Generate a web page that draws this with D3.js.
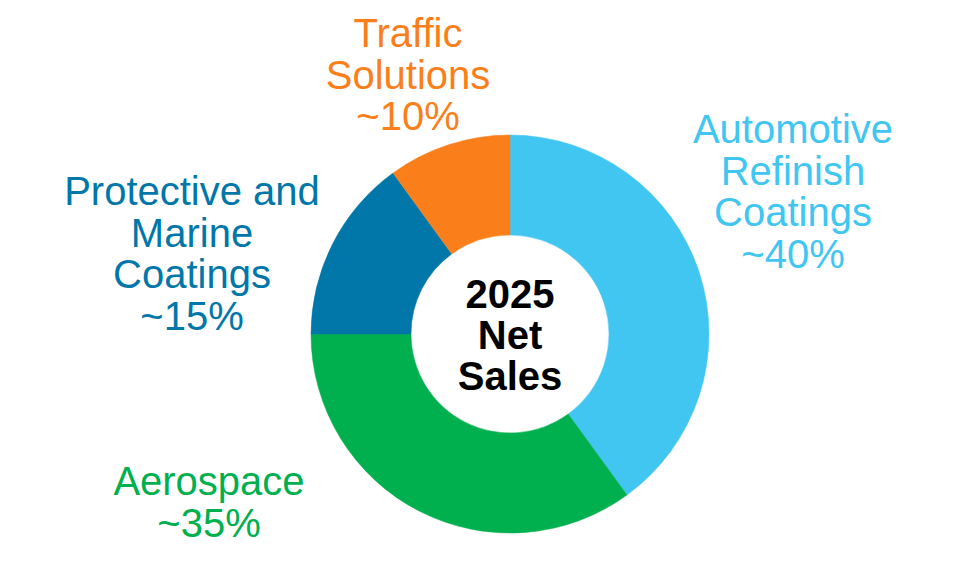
<!DOCTYPE html>
<html>
<head>
<meta charset="utf-8">
<script src="https://cdn.jsdelivr.net/npm/d3@7"></script>
<style>
  html, body { margin: 0; padding: 0; background: #ffffff; }
  svg { display: block; }
</style>
</head>
<body>
<svg id="chart" width="967" height="564"></svg>
<script>
// ---- data ----
const categories = ["Automotive Refinish Coatings", "Aerospace", "Protective and Marine Coatings", "Traffic Solutions"];
const shares = [40, 35, 15, 10];
const shareLabels = ["~40%", "~35%", "~15%", "~10%"];
const labelLines = [
  ["Automotive", "Refinish", "Coatings"],
  ["Aerospace"],
  ["Protective and", "Marine", "Coatings"],
  ["Traffic", "Solutions"]
];
const centerLines = ["2025", "Net", "Sales"];

// ---- style / layout ----
const colors = ["#41C6F2", "#00B04F", "#0077A8", "#FA7F1A"];
const cx = 510, cy = 334, outerR = 199, innerR = 99;
const labelAnchors = [ // x center, first baseline
  { x: 793, y: 143 },
  { x: 209, y: 495 },
  { x: 192, y: 205 },
  { x: 408, y: 47 }
];
const lineStep = 41.5;
const fontFamily = "'Liberation Sans', Arial, Helvetica, sans-serif";

const svg = d3.select("#chart");

const pie = d3.pie().sort(null).value(d => d.value).startAngle(0).endAngle(2 * Math.PI);
const arc = d3.arc().innerRadius(innerR).outerRadius(outerR);

const data = categories.map((c, i) => ({ name: c, value: shares[i], color: colors[i] }));

const g = svg.append("g").attr("transform", `translate(${cx},${cy})`);
g.selectAll("path")
  .data(pie(data))
  .join("path")
  .attr("d", arc)
  .attr("fill", d => d.data.color)
  .attr("stroke", d => d.data.color)
  .attr("stroke-width", 0.5);

// center text
const ct = svg.append("text")
  .attr("text-anchor", "middle")
  .attr("font-family", fontFamily)
  .attr("font-weight", "bold")
  .attr("font-size", 40)
  .attr("fill", "#000");
centerLines.forEach((t, i) => {
  ct.append("tspan").attr("x", cx).attr("y", 308 + i * 41).text(t);
});

// category labels
categories.forEach((c, i) => {
  const lines = labelLines[i].concat([shareLabels[i]]);
  const t = svg.append("text")
    .attr("text-anchor", "middle")
    .attr("font-family", fontFamily)
    .attr("font-size", 40)
    .attr("fill", colors[i]);
  lines.forEach((ln, j) => {
    t.append("tspan")
      .attr("x", labelAnchors[i].x)
      .attr("y", labelAnchors[i].y + j * lineStep)
      .text(ln);
  });
});
</script>
</body>
</html>
